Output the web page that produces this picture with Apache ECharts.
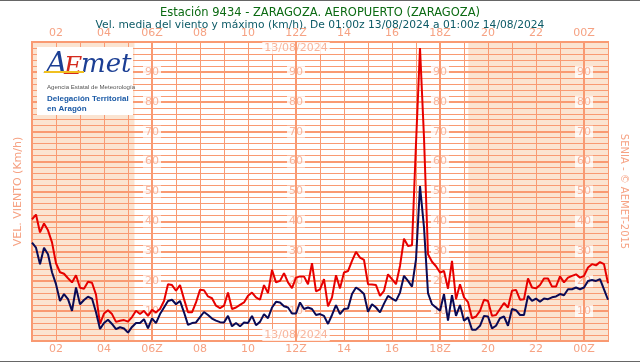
<!DOCTYPE html>
<html>
<head>
<meta charset="utf-8">
<script src="https://cdn.jsdelivr.net/npm/echarts@6/dist/echarts.min.js"></script>
<style>html,body{margin:0;padding:0;background:#fff;}#c{width:640px;height:362px;}</style>
</head>
<body>
<div id="c"></div>
<script>
// 10-minute observations from 01:00Z 13/08/2024 to 01:00Z 14/08/2024 (145 points)
const startHour = 1;
const stepHours = 1 / 6;
const velMax = [
  40.7, 42.3, 36.3, 39.3, 37, 33, 26, 23, 22.5, 21, 19.6, 22, 17.8, 17.5, 19.8, 19.5,
  15.5, 5.7, 9.2, 10.3, 9, 6.4, 6.8, 7, 6.5, 8, 10.1, 9, 10.1, 8.4, 10.4, 9.6,
  10.7, 13.4, 19, 18.7, 16.8, 18.7, 14, 9.6, 9.6, 12.9, 17.1, 17, 14.9, 14.3, 11.8, 11,
  11.8, 16.2, 10.7, 11.2, 12.1, 12.9, 15.1, 16.2, 14.6, 13.8, 18.7, 16, 23.8, 19.6, 20.1, 22.7,
  19.6, 17.7, 21.2, 21.6, 21.6, 19, 26, 16.6, 17.3, 20.7, 11.6, 14.6, 22, 17.6, 22.9, 23.4,
  26.8, 29.8, 27.9, 27.1, 19, 18.9, 18.7, 15.1, 16.8, 22.3, 20.7, 19, 25.1, 34.2, 31.8, 32,
  66, 98, 68, 29, 26.5, 25, 22.9, 23.4, 17.5, 26.8, 14, 19, 14.6, 13, 7.6, 8.2,
  10.1, 13.8, 13.4, 8.4, 8.7, 10.7, 12.7, 11.2, 16.8, 17.1, 13.8, 14, 20.9, 17.9, 17.6, 18.7,
  20.9, 20.9, 18.2, 18.2, 21.6, 19.6, 21.2, 21.8, 22.3, 21.2, 21.8, 24.6, 25.7, 25.3, 26.4, 25.7,
  19.3
];
const velMedia = [
  32.9, 31.2, 25.7, 31.2, 29, 23, 19, 13.4, 15.7, 14, 10.1, 17.9, 12.3, 13.7, 14.8, 14.2,
  9.6, 4, 6, 7.1, 5.7, 4, 4.6, 4.2, 2.8, 4.7, 6, 6, 7.3, 4.2, 7.6, 6,
  9, 11.2, 13.4, 13.8, 12.3, 13.4, 9.6, 5.4, 6, 6.2, 8, 9.7, 8.7, 7.5, 6.8, 6.3,
  6.2, 8.4, 4.9, 6, 4.9, 6.2, 6, 8.4, 5.3, 6.4, 9, 7.6, 11.2, 13.1, 12.9, 11.6,
  11.2, 9.2, 9.2, 12.9, 10.7, 11.2, 10.7, 8.7, 9, 8.4, 5.7, 8.7, 12, 9, 10.7, 10.9,
  15.7, 17.9, 17, 15.7, 9.8, 12.3, 11.2, 9.6, 12.5, 15.1, 14.2, 13.4, 16.2, 21.8, 20.1, 18.2,
  27.3, 51.8, 38, 16, 12.3, 11.2, 10.1, 15.7, 6.8, 15.3, 8.4, 12, 6.8, 7.9, 3.8, 3.8,
  5.1, 8.4, 8.2, 4.2, 5.1, 7.6, 8.2, 5.1, 10.7, 10.3, 8.7, 8.7, 15.1, 13.4, 14.2, 13.1,
  14.2, 14, 14.6, 14.9, 15.7, 15.3, 17.3, 17.3, 17.9, 17.3, 17.9, 20.1, 20.4, 20.1, 20.7, 17.3,
  13.8
];
const yTickLabels = [10, 20, 30, 40, 50, 60, 70, 80, 90];
const yLabelHours = [6, 12, 18, 24];
const synopticHours = [6, 12, 18, 24];
const nightPeriods = [[1, 5.27], [19.18, 25]];
const dateText = '13/08/2024';
const dateLabelPoints = [[12, 98], [12, 2]];

const C_GRID = '#f99a72';
const C_LABEL = '#f6a283';
const C_NIGHT = '#fbe4d1';
const FONT = 'DejaVu Sans';

const maxPts = velMax.map((v, i) => [startHour + i * stepHours, v]);
const medPts = velMedia.map((v, i) => [startHour + i * stepHours, v]);
const yLabelPts = [];
yLabelHours.forEach(h => yTickLabels.forEach(v => yLabelPts.push([h, v])));

function hourLabel(v) {
  const h = Math.round(v);
  if (Math.abs(v - h) > 1e-6 || h % 2 !== 0) return '';
  const hh = h % 24;
  return (hh < 10 ? '0' : '') + hh + (hh % 6 === 0 ? 'Z' : '');
}

const chart = echarts.init(document.getElementById('c'), null, {renderer: 'canvas'});
const xBase = {
  type: 'value', min: 1, max: 25, interval: 1,
  axisLine: {show: false}, axisTick: {show: false},
  splitLine: {show: true, lineStyle: {color: C_GRID, width: 1}},
  axisLabel: {color: C_LABEL, fontFamily: FONT, fontSize: 11, margin: 3, formatter: hourLabel,
              showMinLabel: false, showMaxLabel: false},
  z: 2
};
chart.setOption({
  animation: false,
  backgroundColor: '#fff',
  textStyle: {fontFamily: FONT},
  title: [
    {text: 'Estación 9434 - ZARAGOZA. AEROPUERTO (ZARAGOZA)', left: 'center', top: 2,
     textStyle: {color: '#0b6a12', fontSize: 11.5, fontWeight: 'normal', fontFamily: FONT}},
    {text: 'Vel. media del viento y máximo (km/h). De 01:00z 13/08/2024 a 01:00z 14/08/2024', left: 'center', top: 15,
     textStyle: {color: '#0c5a66', fontSize: 10.7, fontWeight: 'normal', fontFamily: FONT}}
  ],
  grid: {left: 32, right: 32, top: 42, bottom: 21, show: true, borderColor: C_GRID, borderWidth: 2, backgroundColor: 'transparent'},
  xAxis: [
    Object.assign({}, xBase, {position: 'top'}),
    Object.assign({}, xBase, {position: 'bottom', splitLine: {show: false}})
  ],
  yAxis: [
    {type: 'value', min: 0, max: 100, interval: 2, position: 'left',
     axisLine: {show: false}, axisTick: {show: false}, axisLabel: {show: false},
     splitLine: {lineStyle: {color: C_GRID, width: 1}},
     name: 'VEL. VIENTO (Km/h)', nameLocation: 'middle', nameGap: 8, nameRotate: 90,
     nameTextStyle: {color: C_LABEL, fontSize: 11, fontFamily: FONT}, z: 2},
    {type: 'value', min: 0, max: 100, interval: 10, position: 'right',
     axisLine: {show: false}, axisTick: {show: false}, axisLabel: {show: false},
     splitLine: {lineStyle: {color: C_GRID, width: 2}},
     name: 'SENIA - © AEMET-2015', nameLocation: 'middle', nameGap: 11, nameRotate: -90,
     nameTextStyle: {color: C_LABEL, fontSize: 10, fontFamily: FONT}, z: 2}
  ],
  series: [
    {type: 'line', data: [], z: 1, silent: true,
     markArea: {silent: true, itemStyle: {color: C_NIGHT},
       data: nightPeriods.map(p => [{xAxis: p[0]}, {xAxis: p[1]}])}},
    {type: 'line', data: [], z: 3, silent: true,
     markLine: {silent: true, symbol: 'none', label: {show: false},
       lineStyle: {color: C_GRID, width: 2, type: 'solid'},
       data: synopticHours.map(h => ({xAxis: h}))}},
    {type: 'scatter', data: yLabelPts, symbolSize: 0, z: 4, silent: true,
     label: {show: true, position: 'inside', formatter: p => String(p.value[1]),
       color: C_LABEL, fontSize: 11, fontFamily: FONT, backgroundColor: '#fff', padding: [1, 2, 0, 2]}},
    {type: 'scatter', data: dateLabelPoints, symbolSize: 0, z: 4, silent: true,
     label: {show: true, position: 'inside', formatter: dateText,
       color: C_LABEL, fontSize: 11, fontFamily: FONT, backgroundColor: '#fff', padding: [1, 2, 0, 2]}},
    {name: 'Máximo', type: 'line', data: maxPts, showSymbol: false, z: 6,
     lineStyle: {color: '#e60000', width: 2}, itemStyle: {color: '#e60000'}},
    {name: 'Media', type: 'line', data: medPts, showSymbol: false, z: 7,
     lineStyle: {color: '#0a0a55', width: 2}, itemStyle: {color: '#0a0a55'}}
  ]
});

chart.setOption({
  graphic: {elements: [
    {type: 'rect', x: 0, y: 0, shape: {x: 0, y: 0, width: 640, height: 1}, style: {fill: '#666'}, z: 100},
    {type: 'rect', x: 0, y: 0, shape: {x: 0, y: 361, width: 640, height: 1}, style: {fill: '#666'}, z: 100},
    {type: 'rect', x: 0, y: 0, shape: {x: 37, y: 47, width: 96, height: 68}, style: {fill: '#fff'}, z: 50},
    {type: 'text', x: 46, y: 50, z: 51, style: {text: 'A', font: 'italic 30px "DejaVu Serif"', fill: '#1c3f94'}},
    {type: 'text', x: 64, y: 55, z: 51, style: {text: 'E', font: 'italic 25px "DejaVu Serif"', fill: '#d42a1e'}},
    {type: 'text', x: 81, y: 52, z: 51, style: {text: 'met', font: 'italic 26px "DejaVu Serif"', fill: '#1c3f94'}},
    {type: 'rect', x: 0, y: 0, shape: {x: 44, y: 71, width: 40, height: 2}, style: {fill: '#f0c020'}, z: 52},
    {type: 'text', x: 47, y: 84, z: 51, style: {text: 'Agencia Estatal de Meteorología', font: '6.1px "Liberation Sans"', fill: '#555'}},
    {type: 'text', x: 47, y: 95, z: 51, style: {text: 'Delegación Territorial', font: 'bold 8px "Liberation Sans"', fill: '#1b5aa6'}},
    {type: 'text', x: 47, y: 105, z: 51, style: {text: 'en Aragón', font: 'bold 8px "Liberation Sans"', fill: '#1b5aa6'}}
  ]}
});
</script>
</body>
</html>
